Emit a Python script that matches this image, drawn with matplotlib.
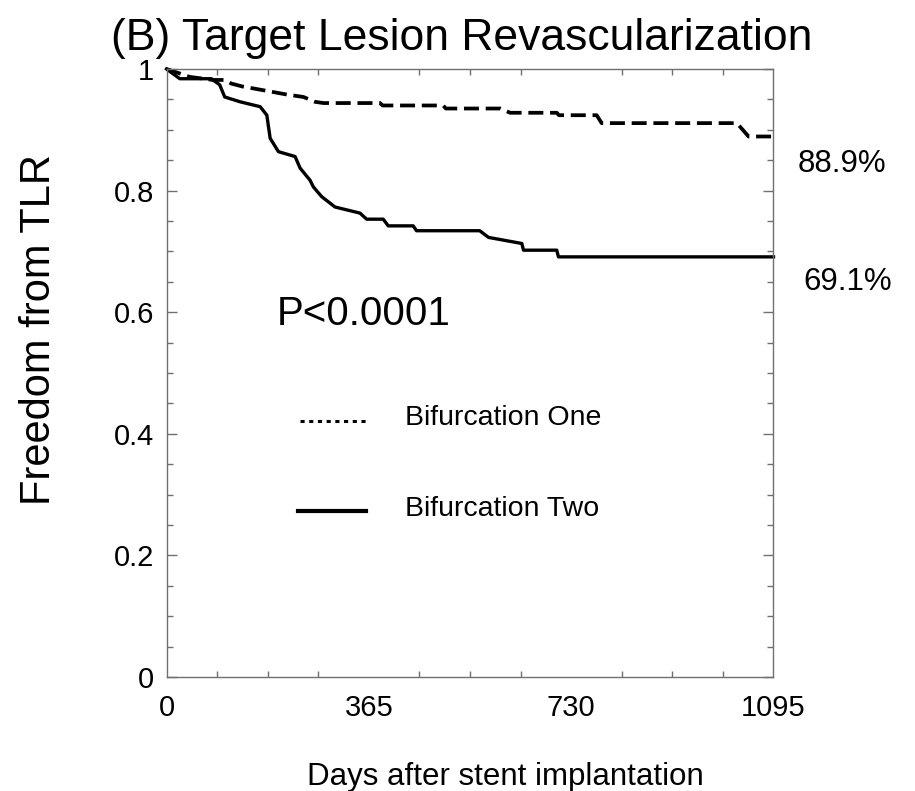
import matplotlib
matplotlib.use("Agg")
import matplotlib.pyplot as plt
from matplotlib.lines import Line2D
from matplotlib.ticker import MultipleLocator, FixedLocator

plt.rcParams['font.family'] = ['Liberation Sans', 'DejaVu Sans']

# ---- data ----
days_one = [0, 42, 84, 105, 117, 138, 157, 181, 217, 247, 268, 283, 385, 390,
            499, 504, 602, 620, 704, 708, 776, 785, 1029, 1050, 1095]
surv_one = [1.0, 0.987, 0.982, 0.982, 0.976, 0.971, 0.968, 0.964, 0.958, 0.954,
            0.946, 0.944, 0.944, 0.940, 0.940, 0.935, 0.935, 0.928, 0.928, 0.924,
            0.924, 0.911, 0.911, 0.889, 0.889]

days_two = [0, 24, 81, 96, 105, 133, 169, 181, 187, 202, 232, 241, 259, 265, 280,
            304, 349, 361, 391, 400, 445, 451, 565, 581, 641, 644, 704, 707, 1095]
surv_two = [1.0, 0.984, 0.984, 0.974, 0.954, 0.946, 0.938, 0.924, 0.886, 0.864,
            0.856, 0.837, 0.817, 0.806, 0.790, 0.773, 0.763, 0.753, 0.753, 0.742,
            0.742, 0.734, 0.734, 0.723, 0.713, 0.702, 0.702, 0.691, 0.691]

series_names = ["Bifurcation One", "Bifurcation Two"]
end_labels = ["88.9%", "69.1%"]
x_ticks = [0, 365, 730, 1095]
x_tick_labels = ["0", "365", "730", "1095"]
y_ticks = [0, 0.2, 0.4, 0.6, 0.8, 1.0]
y_tick_labels = ["0", "0.2", "0.4", "0.6", "0.8", "1"]
title = "(B) Target Lesion Revascularization"
xlabel = "Days after stent implantation"
ylabel = "Freedom from TLR"
pval = "P<0.0001"

W, H = 915, 791
fig = plt.figure(figsize=(W / 100, H / 100), dpi=100)

def fx(px):
    return px / W

def fy(py):
    return 1 - py / H

ax = fig.add_axes([fx(166.5), fy(677), fx(773.5) - fx(166.5), fy(69) - fy(677)])

ax.plot(days_one, surv_one, color='black', lw=2.7, linestyle=(0, (4, 1.8)),
        dash_capstyle='butt', clip_on=False)
ax.plot(days_two, surv_two, color='black', lw=2.4, clip_on=False)

ax.set_xlim(0, 1095)
ax.set_ylim(0, 1)
ax.xaxis.set_major_locator(FixedLocator(x_ticks))
ax.set_xticklabels(x_tick_labels)
ax.xaxis.set_minor_locator(MultipleLocator(1095 / 12))
ax.yaxis.set_major_locator(FixedLocator(y_ticks))
ax.set_yticklabels(y_tick_labels)
ax.yaxis.set_minor_locator(MultipleLocator(0.05))

ax.tick_params(which='both', direction='in', top=True, right=True,
               color='#707070', width=1)
ax.tick_params(axis='y', which='major', length=7.2, labelsize=21, pad=9)
ax.tick_params(axis='x', which='major', length=0, labelsize=21, pad=12)
ax.tick_params(which='minor', length=4.3)
for s in ax.spines.values():
    s.set_color('#707070')
    s.set_linewidth(1)

# texts
fig.text(fx(462), fy(50), title, fontsize=32, ha='center', va='baseline')
fig.text(fx(505), fy(785), xlabel, fontsize=22.5, ha='center', va='baseline')
fig.text(fx(39), fy(330), ylabel, fontsize=30, ha='center', va='center',
         rotation=90)
fig.text(fx(277), fy(325), pval, fontsize=29, ha='left', va='baseline')
fig.text(fx(798), fy(171.5), end_labels[0], fontsize=22.5, ha='left', va='baseline')
fig.text(fx(803), fy(290), end_labels[1], fontsize=22.5, ha='left', va='baseline')

# legend
fig.add_artist(Line2D([fx(300), fx(368)], [fy(421), fy(421)], color='black',
                      lw=2.2, linestyle=(0, (1.35, 1.5)),
                      dash_capstyle='butt', transform=fig.transFigure))
fig.add_artist(Line2D([fx(298), fx(366)], [fy(511), fy(511)], color='black',
                      lw=3.0, transform=fig.transFigure))
fig.text(fx(405), fy(425), series_names[0], fontsize=20.5, ha='left', va='baseline')
fig.text(fx(405), fy(516), series_names[1], fontsize=20.5, ha='left', va='baseline')

fig.savefig("out.png", dpi=100)
